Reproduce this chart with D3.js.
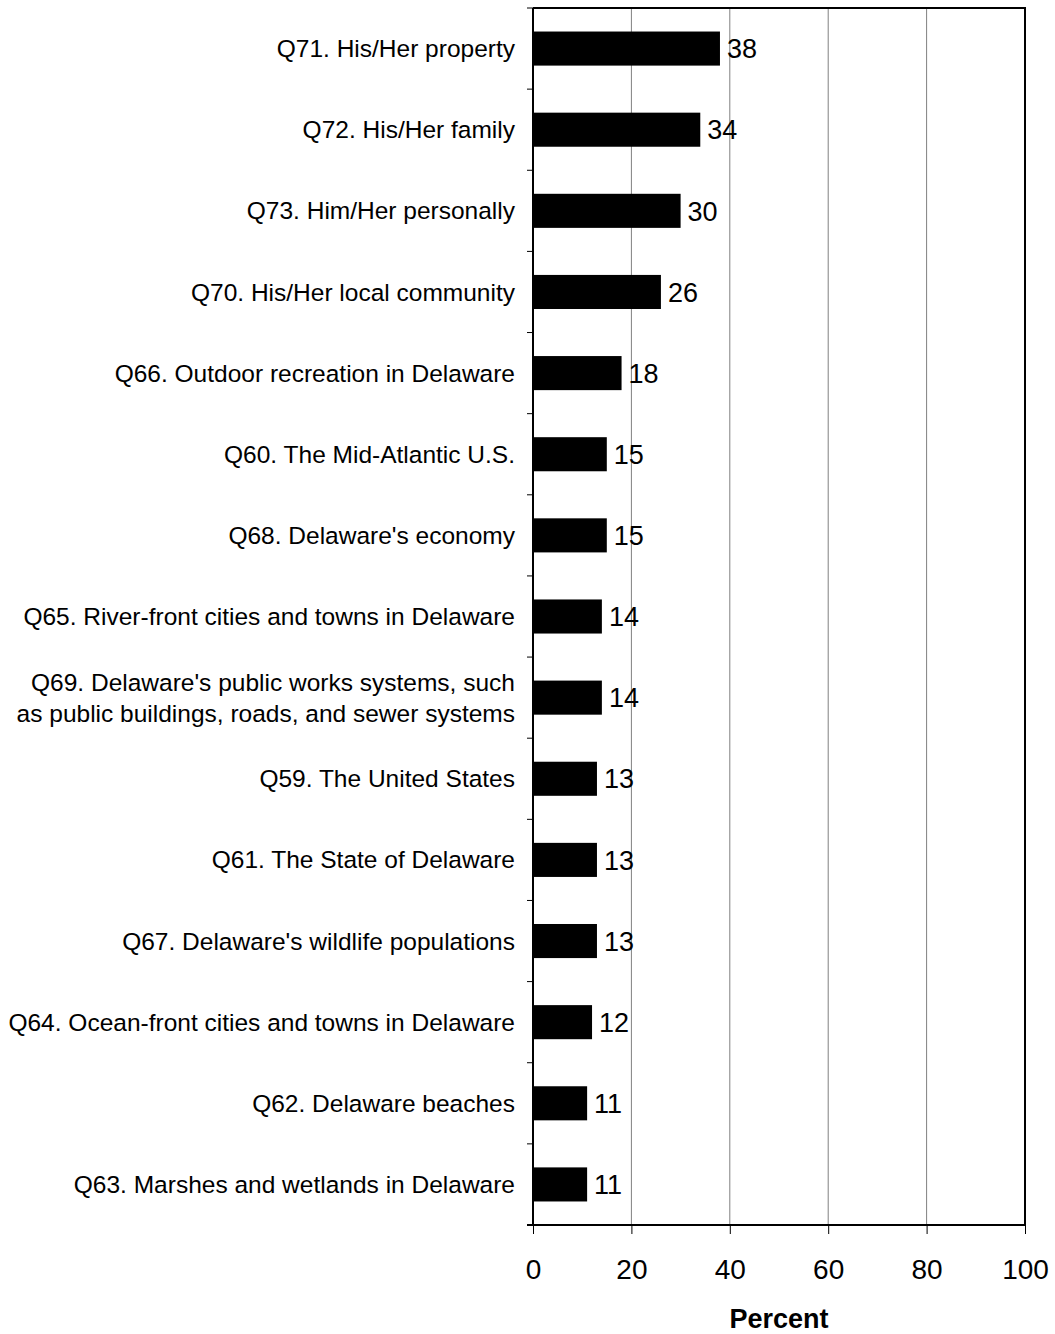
<!DOCTYPE html>
<html>
<head>
<meta charset="utf-8">
<script src="https://cdn.jsdelivr.net/npm/d3@7"></script>
<style>
  body { margin: 0; background: #fff; }
  svg { display: block; font-family: "Liberation Sans", Arial, sans-serif; }
</style>
</head>
<body>
<div id="chart"></div>
<script>
const categories = [
  'Q71. His/Her property',
  'Q72. His/Her family',
  'Q73. Him/Her personally',
  'Q70. His/Her local community',
  'Q66. Outdoor recreation in Delaware',
  'Q60. The Mid-Atlantic U.S.',
  "Q68. Delaware's economy",
  'Q65. River-front cities and towns in Delaware',
  "Q69. Delaware's public works systems, such\nas public buildings, roads, and sewer systems",
  'Q59. The United States',
  'Q61. The State of Delaware',
  "Q67. Delaware's wildlife populations",
  'Q64. Ocean-front cities and towns in Delaware',
  'Q62. Delaware beaches',
  'Q63. Marshes and wetlands in Delaware'
];
const values = [ 38, 34, 30, 26, 18, 15, 15, 14, 14, 13, 13, 13, 12, 11, 11 ];
const xTicks = [ 0, 20, 40, 60, 80, 100 ];

const width = 1055;
const height = 1334;
const margin = { top: 8, right: 30, bottom: 109, left: 533 };
const w = width - margin.left - margin.right;
const h = height - margin.top - margin.bottom;

const svg = d3.select('#chart').append('svg')
  .attr('width', width)
  .attr('height', height)
  .attr('viewBox', [ 0, 0, width, height ]);

const plot = svg.append('g')
  .attr('transform', `translate(${margin.left},${margin.top})`);

const x = d3.scaleLinear().domain([ 0, 100 ]).range([ 0, w ]);
const y = d3.scaleBand().domain(d3.range(categories.length)).range([ 0, h ]);
const barH = y.bandwidth() * 0.42;

// gridlines
plot.append('g')
  .selectAll('line')
  .data(xTicks.slice(1, -1))
  .enter().append('line')
    .attr('x1', d => x(d))
    .attr('x2', d => x(d))
    .attr('y1', 0)
    .attr('y2', h)
    .attr('stroke', '#808080')
    .attr('stroke-width', 1);

// frame top/right
plot.append('path')
  .attr('d', `M0,0H${w}V${h}`)
  .attr('fill', 'none')
  .attr('stroke', '#000')
  .attr('stroke-width', 2);

// bars
plot.append('g')
  .selectAll('rect')
  .data(values)
  .enter().append('rect')
    .attr('x', 0)
    .attr('y', (d, i) => y(i) + (y.bandwidth() - barH) / 2)
    .attr('width', d => x(d))
    .attr('height', barH)
    .attr('fill', '#000');

// value labels
plot.append('g')
  .selectAll('text')
  .data(values)
  .enter().append('text')
    .attr('x', d => x(d) + 7)
    .attr('y', (d, i) => y(i) + y.bandwidth() / 2)
    .attr('dy', '0.36em')
    .attr('font-size', 27)
    .attr('fill', '#000')
    .text(d => d);

// left axis with ticks at category boundaries
const yb = d3.range(categories.length + 1).map(i => i * y.step());
plot.append('line')
  .attr('x1', 0).attr('x2', 0).attr('y1', 0).attr('y2', h)
  .attr('stroke', '#000').attr('stroke-width', 2);
plot.append('g')
  .selectAll('line')
  .data(yb)
  .enter().append('line')
    .attr('x1', -6).attr('x2', 0)
    .attr('y1', d => d).attr('y2', d => d)
    .attr('stroke', '#000').attr('stroke-width', 1);

// category labels
const labels = plot.append('g')
  .selectAll('text')
  .data(categories)
  .enter().append('text')
    .attr('x', -18)
    .attr('y', (d, i) => y(i) + y.bandwidth() / 2)
    .attr('text-anchor', 'end')
    .attr('font-size', 24.5)
    .attr('fill', '#000');
labels.each(function (d) {
  const lines = d.split('\n');
  const t = d3.select(this);
  lines.forEach((l, j) => {
    t.append('tspan')
      .attr('x', -18)
      .attr('dy', j === 0 ? `${0.35 - (lines.length - 1) * 0.64}em` : '1.28em')
      .text(l);
  });
});

// bottom axis
plot.append('g')
  .attr('transform', `translate(0,${h})`)
  .call(d3.axisBottom(x).tickValues(xTicks).tickSize(9).tickPadding(25).tickFormat(String))
  .call(g => g.select('.domain').attr('stroke-width', 2).attr('d', `M-6,0H${w}`))
  .call(g => g.selectAll('.tick line').attr('stroke-width', 1))
  .call(g => g.selectAll('text')
    .attr('font-size', 28)
    .attr('font-family', '"Liberation Sans", Arial, sans-serif')
    .attr('fill', '#000'));

svg.append('text')
  .attr('x', margin.left + w / 2)
  .attr('y', 1328)
  .attr('text-anchor', 'middle')
  .attr('font-size', 27)
  .attr('font-weight', 'bold')
  .text('Percent');
</script>
</body>
</html>
